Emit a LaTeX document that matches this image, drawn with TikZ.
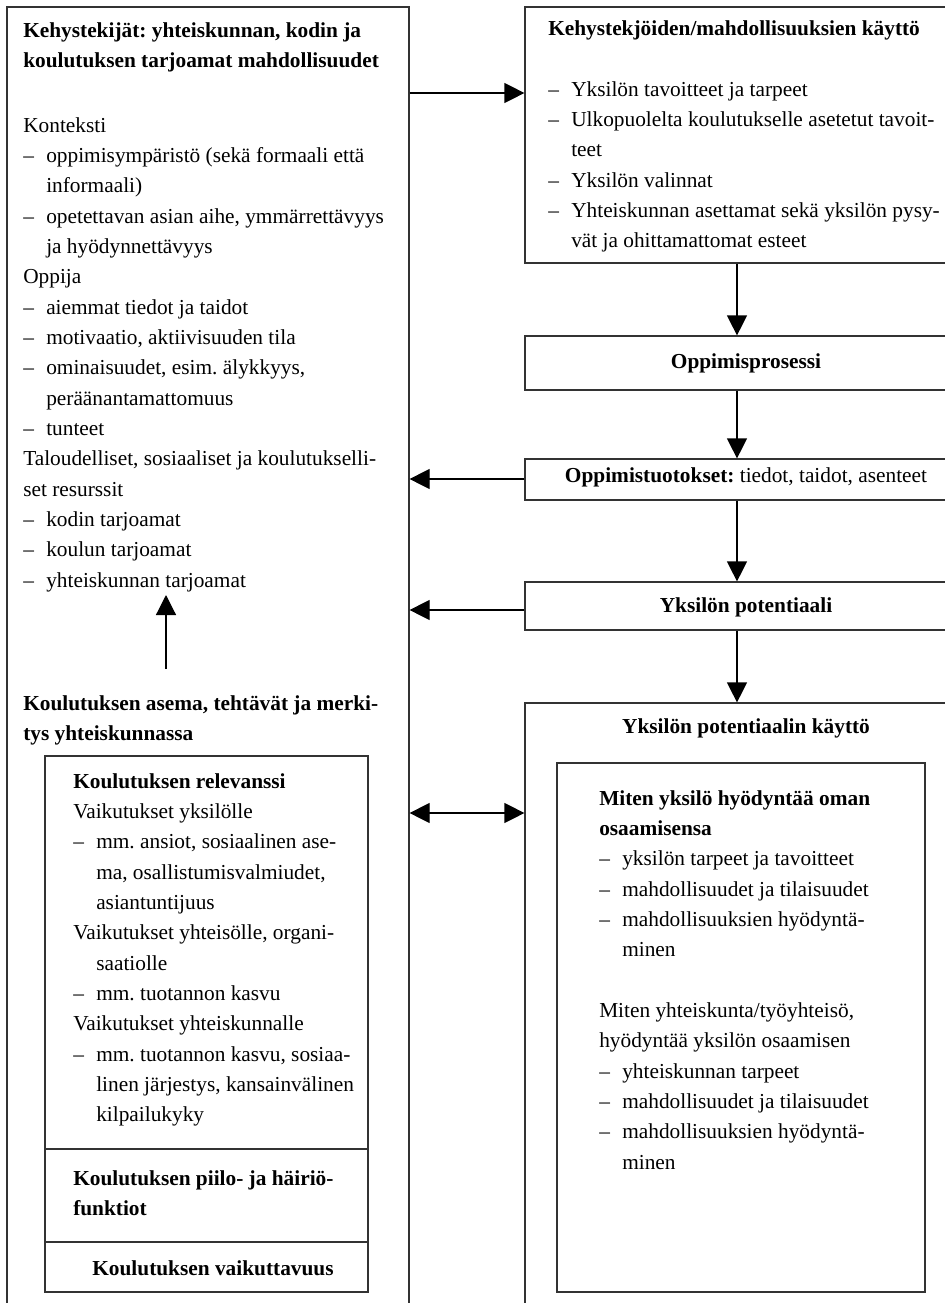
\documentclass[tikz,border=0pt]{standalone}
\usepackage{fontspec}
\setmainfont{Liberation Serif}
\usetikzlibrary{arrows.meta,fit}
\frenchspacing
\newcommand{\dashitem}[1]{\makebox[17.25pt][l]{–}#1}
\newcommand{\contline}[1]{\hspace*{17.25pt}#1}
\tikzset{
  box/.style={draw=black!80, line width=0.9pt, inner sep=0pt},
  arr/.style={-{Triangle[length=15pt,width=15pt]}, line width=0.9pt, draw=black},
  arrtwo/.style={{Triangle[length=15pt,width=15pt]}-{Triangle[length=15pt,width=15pt]}, line width=0.9pt, draw=black},
  txt/.style={inner sep=0pt, anchor=base west, font=\fontsize{16pt}{22.75pt}\selectfont},
  ctxt/.style={inner sep=0pt, anchor=base, font=\fontsize{16pt}{22.75pt}\selectfont}
}
\begin{document}
\begin{tikzpicture}[x=0.75pt,y=-0.75pt]
\useasboundingbox (0,0) rectangle (945,1303);
\fill[white] (0,0) rectangle (945,1303);
\clip (0,0) rectangle (945,1303);

% boxes
\node[box, fit={(7,7) (409,1330)}] (L) {};
\node[box, fit={(525,7) (967,263)}] (R1) {};
\node[box, fit={(525,336) (967,390)}] (R2) {};
\node[box, fit={(525,459) (967,500)}] (R3) {};
\node[box, fit={(525,582) (967,630)}] (R4) {};
\node[box, fit={(525,703) (967,1330)}] (R5) {};
\node[box, fit={(45,756) (368,1149)}] (LI1) {};
\node[box, fit={(45,1149) (368,1242)}] (LI2) {};
\node[box, fit={(45,1242) (368,1292)}] (LI3) {};
\node[box, fit={(557,763) (925,1292)}] (RI) {};

% texts, left column
\node[txt] (lhead) at (23,37) {\parbox[t]{400pt}{\raggedright\bfseries
Kehystekijät: yhteiskunnan, kodin ja\\
koulutuksen tarjoamat mahdollisuudet}};
\node[txt] (lbody) at (23,132) {\parbox[t]{400pt}{\raggedright
Konteksti\\
\dashitem{oppimisympäristö (sekä formaali että}\\
\contline{informaali)}\\
\dashitem{opetettavan asian aihe, ymmärrettävyys}\\
\contline{ja hyödynnettävyys}\\
Oppija\\
\dashitem{aiemmat tiedot ja taidot}\\
\dashitem{motivaatio, aktiivisuuden tila}\\
\dashitem{ominaisuudet, esim. älykkyys,}\\
\contline{peräänantamattomuus}\\
\dashitem{tunteet}\\
Taloudelliset, sosiaaliset ja koulutukselli-\\
set resurssit\\
\dashitem{kodin tarjoamat}\\
\dashitem{koulun tarjoamat}\\
\dashitem{yhteiskunnan tarjoamat}}};
\node[txt] (lhead2) at (23,710) {\parbox[t]{400pt}{\raggedright\bfseries
Koulutuksen asema, tehtävät ja merki-\\
tys yhteiskunnassa}};
\node[txt] (li1t) at (73,788) {\parbox[t]{400pt}{\raggedright
\textbf{Koulutuksen relevanssi}\\
Vaikutukset yksilölle\\
\dashitem{mm. ansiot, sosiaalinen ase-}\\
\contline{ma, osallistumisvalmiudet,}\\
\contline{asiantuntijuus}\\
Vaikutukset yhteisölle, organi-\\
\contline{saatiolle}\\
\dashitem{mm. tuotannon kasvu}\\
Vaikutukset yhteiskunnalle\\
\dashitem{mm. tuotannon kasvu, sosiaa-}\\
\contline{linen järjestys, kansainvälinen}\\
\contline{kilpailukyky}}};
\node[txt] (li2t) at (73,1185) {\parbox[t]{400pt}{\raggedright\bfseries
Koulutuksen piilo- ja häiriö-\\
funktiot}};
\node[ctxt] (li3t) at (213,1275) {\bfseries Koulutuksen vaikuttavuus};

% texts, right column
\node[txt] (r1h) at (548,35) {\bfseries Kehystekjöiden/mahdollisuuksien käyttö};
\node[txt] (r1t) at (548,96) {\parbox[t]{400pt}{\raggedright
\dashitem{Yksilön tavoitteet ja tarpeet}\\
\dashitem{Ulkopuolelta koulutukselle asetetut tavoit-}\\
\contline{teet}\\
\dashitem{Yksilön valinnat}\\
\dashitem{Yhteiskunnan asettamat sekä yksilön pysy-}\\
\contline{vät ja ohittamattomat esteet}}};
\node[ctxt] (r2t) at (746,368) {\bfseries Oppimisprosessi};
\node[ctxt] (r3t) at (746,482) {\textbf{Oppimistuotokset:} tiedot, taidot, asenteet};
\node[ctxt] (r4t) at (746,612) {\bfseries Yksilön potentiaali};
\node[ctxt] (r5t) at (746,733) {\bfseries Yksilön potentiaalin käyttö};
\node[txt] (rit) at (599,805) {\parbox[t]{400pt}{\raggedright
\textbf{Miten yksilö hyödyntää oman}\\
\textbf{osaamisensa}\\
\dashitem{yksilön tarpeet ja tavoitteet}\\
\dashitem{mahdollisuudet ja tilaisuudet}\\
\dashitem{mahdollisuuksien hyödyntä-}\\
\contline{minen}\\[22.75pt]
Miten yhteiskunta/työyhteisö,\\
hyödyntää yksilön osaamisen\\
\dashitem{yhteiskunnan tarpeet}\\
\dashitem{mahdollisuudet ja tilaisuudet}\\
\dashitem{mahdollisuuksien hyödyntä-}\\
\contline{minen}}};

% connectors
\coordinate (ax) at (737,0);
\coordinate (upS) at (166,669);
\coordinate (upE) at (166,595);
\draw[arr] (L.east |- 0,93) -- (R1.west |- 0,93);
\draw[arr] (R1.south -| ax) -- (R2.north -| ax);
\draw[arr] (R2.south -| ax) -- (R3.north -| ax);
\draw[arr] (R3.south -| ax) -- (R4.north -| ax);
\draw[arr] (R4.south -| ax) -- (R5.north -| ax);
\draw[arr] (R3.west |- 0,479) -- (L.east |- 0,479);
\draw[arr] (R4.west |- 0,610) -- (L.east |- 0,610);
\draw[arrtwo] (L.east |- 0,813) -- (R5.west |- 0,813);
\draw[arr] (upS) -- (upE);
\end{tikzpicture}
\end{document}
